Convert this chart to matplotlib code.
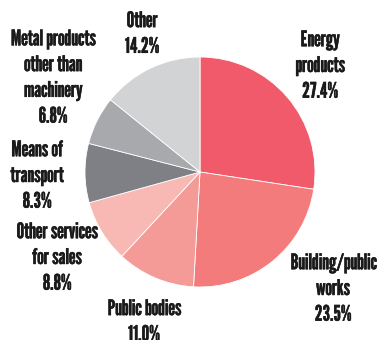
import matplotlib
matplotlib.use("Agg")
import matplotlib.pyplot as plt
import matplotlib.patheffects as pe

categories = ["Energy\nproducts", "Building/public\nworks", "Public bodies",
              "Other services\nfor sales", "Means of\ntransport",
              "Metal products\nother than\nmachinery", "Other"]
shares = [27.4, 23.5, 11.0, 8.8, 8.3, 6.8, 14.2]
colors = ["#f05a6a", "#f37b7b", "#f49b98", "#f8b9b5", "#7f8085", "#a8a9ad", "#d2d3d5"]

# label anchor positions in figure pixels (x, y from top)
label_pos = [(320, 66), (333, 289), (144, 322), (57, 258), (37, 176), (53, 78), (142, 34)]

W, H = 377, 340
fig = plt.figure(figsize=(W / 100, H / 100), dpi=100)
fig.patch.set_facecolor("white")

cx, cy, r = 200, 172, 115
ax = fig.add_axes([(cx - r) / W, 1 - (cy + r) / H, 2 * r / W, 2 * r / H])
ax.pie(shares, colors=colors, startangle=90, counterclock=False,
       wedgeprops=dict(edgecolor="white", linewidth=0.6))
ax.set_aspect("equal")
ax.set_xlim(-1, 1)
ax.set_ylim(-1, 1)
ax.axis("off")

font = ["League Gothic", "Pathway Gothic One", "Oswald", "Fjalla One", "DejaVu Sans"]
for name, val, (px, py) in zip(categories, shares, label_pos):
    fig.text(px / W, 1 - py / H, f"{name}\n{val:.1f}%", ha="center", va="center",
             family=font, fontsize=15.5, linespacing=1.36, color="#1a1a1a",
             path_effects=[pe.withStroke(linewidth=0.3, foreground="#1a1a1a")])

fig.savefig("out.png", dpi=100)
